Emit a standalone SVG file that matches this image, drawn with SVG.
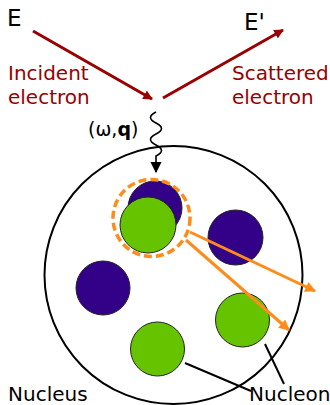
<svg xmlns="http://www.w3.org/2000/svg" width="330" height="405" viewBox="0 0 330 405">
<style>
text{font-family:"DejaVu Sans",sans-serif;font-size:20px}
.red{fill:#990000}
.blk{fill:#000}
.p{fill:#330088;stroke:#222;stroke-width:1}
.n{fill:#66c300;stroke:#222;stroke-width:1}
.el{stroke:#990000;stroke-width:3;fill:none}
.or{stroke:#ff8c1a;stroke-width:3;fill:none}
.lead{stroke:#000;stroke-width:2;fill:none}
</style>
<defs>
<marker id="ar" viewBox="0 0 10 10" refX="9" refY="5" markerWidth="3.2" markerHeight="3.2" orient="auto" markerUnits="strokeWidth"><path d="M0,0 L10,5 L0,10 z" fill="#990000"/></marker>
<marker id="ao" viewBox="0 0 10 10" refX="9" refY="5" markerWidth="3.6" markerHeight="3.6" orient="auto" markerUnits="strokeWidth"><path d="M0,0 L10,5 L0,10 z" fill="#ff8c1a"/></marker>
<marker id="ab" viewBox="0 0 10 10" refX="9" refY="5" markerWidth="7" markerHeight="7" orient="auto" markerUnits="strokeWidth"><path d="M0,0 L10,5 L0,10 z" fill="#000"/></marker>
</defs>
<g id="nucleus"><circle cx="173.5" cy="275" r="129" fill="#fff" stroke="#000" stroke-width="2"/></g>
<g id="nucleon-blue-1"><circle class="p" cx="155" cy="208" r="27"/></g>
<g id="nucleon-green-1"><circle class="n" cx="148" cy="225" r="28"/></g>
<g id="dashed-ring"><circle cx="151.5" cy="218" r="38.5" fill="none" stroke="#ff8c1a" stroke-width="3.5" stroke-dasharray="8,4"/></g>
<g id="nucleon-blue-2"><circle class="p" cx="235.5" cy="237.5" r="27.5"/></g>
<g id="nucleon-blue-3"><circle class="p" cx="103" cy="288" r="27"/></g>
<g id="nucleon-green-2"><circle class="n" cx="242.5" cy="320" r="27"/></g>
<g id="nucleon-green-3"><circle class="n" cx="157.5" cy="349" r="27"/></g>
<g id="connectors">
<line class="el" x1="33" y1="31" x2="152" y2="99" marker-end="url(#ar)"/>
<line class="el" x1="163" y1="98" x2="283" y2="30" marker-end="url(#ar)"/>
<path d="M156,112 q-11,5.5 0,11 t0,11 t0,11 t0,11 L156,172" fill="none" stroke="#000" stroke-width="1.6" marker-end="url(#ab)"/>
<line class="or" x1="190" y1="232" x2="315" y2="291" marker-end="url(#ao)"/>
<line class="or" x1="186" y1="240" x2="289" y2="330" marker-end="url(#ao)"/>
<line class="lead" x1="185" y1="363" x2="251" y2="391"/>
<line class="lead" x1="265" y1="344" x2="284" y2="384"/>
</g>
<g id="labels">
<text class="blk" x="7" y="26" style="font-size:23px">E</text>
<text class="blk" x="244" y="30" style="font-size:23px">E'</text>
<text class="red" x="8" y="80">Incident</text>
<text class="red" x="8" y="104">electron</text>
<text class="red" x="232" y="80">Scattered</text>
<text class="red" x="232" y="104">electron</text>
<text class="blk" x="88" y="136" style="font-size:19px">(ω,<tspan font-weight="bold">q</tspan>)</text>
<text class="blk" x="8" y="401">Nucleus</text>
<text class="blk" x="249" y="401">Nucleon</text>
</g>
</svg>
